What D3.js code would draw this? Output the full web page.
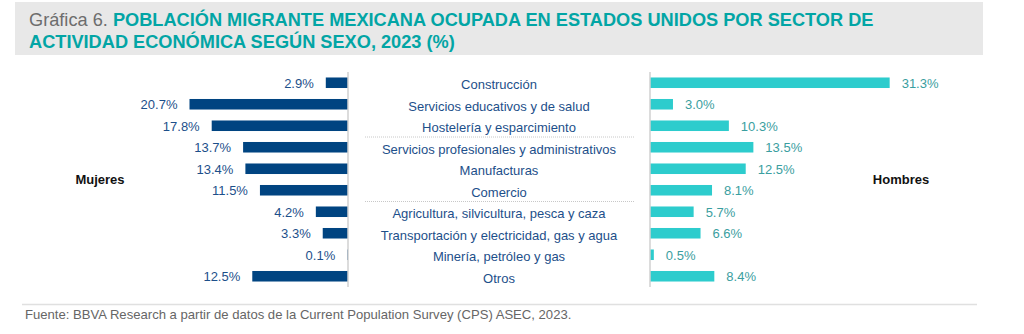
<!DOCTYPE html>
<html>
<head>
<meta charset="utf-8">
<script src="https://cdn.jsdelivr.net/npm/d3@7"></script>
<style>
	body { margin: 0; background: #fff; }
	svg { display: block; font-family: "Liberation Sans", Arial, sans-serif; }
</style>
</head>
<body>
<script>
var sectores = [
	"Construcción",
	"Servicios educativos y de salud",
	"Hostelería y esparcimiento",
	"Servicios profesionales y administrativos",
	"Manufacturas",
	"Comercio",
	"Agricultura, silvicultura, pesca y caza",
	"Transportación y electricidad, gas y agua",
	"Minería, petróleo y gas",
	"Otros"
];
var mujeres = [2.9, 20.7, 17.8, 13.7, 13.4, 11.5, 4.2, 3.3, 0.1, 12.5];
var hombres = [31.3, 3.0, 10.3, 13.5, 12.5, 8.1, 5.7, 6.6, 0.5, 8.4];
// separators drawn after these categories
var cortes = ["Hostelería y esparcimiento", "Comercio"];

var width = 1024, height = 334;
var leftAxis = 348, rightAxis = 650, midX = 499;
var navy = "#004481", aqua = "#2dcccd";

var canvas = d3.select("body").append("svg")
	.attr("width", width)
	.attr("height", height);

/*
Title band
*/
canvas.append("rect")
	.attr("x", 15).attr("y", 2)
	.attr("width", 968).attr("height", 53)
	.style("fill", "#e8e8e8");

var t1 = canvas.append("text")
	.attr("x", 29).attr("y", 26)
	.attr("font-size", "18.2px");
t1.append("tspan").text("Gráfica 6. ").style("fill", "#6d6d6d");
t1.append("tspan").text("POBLACIÓN MIGRANTE MEXICANA OCUPADA EN ESTADOS UNIDOS POR SECTOR DE")
	.style("fill", "#02a5a5").style("font-weight", "bold");
canvas.append("text")
	.attr("x", 29).attr("y", 48)
	.attr("font-size", "18.2px")
	.style("fill", "#02a5a5").style("font-weight", "bold")
	.text("ACTIVIDAD ECONÓMICA SEGÚN SEXO, 2023 (%)");

/*
Scales
*/
var y = d3.scaleBand()
	.domain(sectores)
	.range([72, 287])
	.paddingInner(0.51)
	.paddingOuter(0.255);

var x = d3.scaleLinear()
	.domain([0, 35])
	.range([0, 268]);

var rows = sectores.map(function(s, i){ return {sector: s, m: mujeres[i], h: hombres[i]}; });

/*
Middle category labels and dotted separators
*/
canvas.selectAll("catLabels")
	.data(rows)
	.enter()
	.append("text")
	.attr("x", midX)
	.attr("y", function(d){ return y(d.sector) + y.bandwidth() / 2 + 2; })
	.attr("dy", "0.35em")
	.attr("text-anchor", "middle")
	.attr("font-size", "13px")
	.style("fill", "#1d4f8a")
	.text(function(d){ return d.sector; });

canvas.selectAll("cortes")
	.data(cortes)
	.enter()
	.append("line")
	.attr("x1", 365).attr("x2", 635)
	.attr("y1", function(d){ return y(d) + y.bandwidth() + (y.step() - y.bandwidth()) / 2 + 0.5; })
	.attr("y2", function(d){ return y(d) + y.bandwidth() + (y.step() - y.bandwidth()) / 2 + 0.5; })
	.style("stroke", "#c8c8c8")
	.style("stroke-width", 1)
	.style("stroke-dasharray", "1,1");

/*
Mujeres bars (left, growing leftwards)
*/
canvas.selectAll("barM")
	.data(rows)
	.enter()
	.append("rect")
	.attr("x", function(d){ return leftAxis - x(d.m); })
	.attr("y", function(d){ return y(d.sector); })
	.attr("width", function(d){ return x(d.m); })
	.attr("height", y.bandwidth())
	.style("fill", navy);

canvas.selectAll("labM")
	.data(rows)
	.enter()
	.append("text")
	.attr("x", function(d){ return leftAxis - x(d.m) - 12; })
	.attr("y", function(d){ return y(d.sector) + y.bandwidth() / 2 + 0.5; })
	.attr("dy", "0.35em")
	.attr("text-anchor", "end")
	.attr("font-size", "13px")
	.style("fill", "#1d4f8a")
	.text(function(d){ return d.m.toFixed(1) + "%"; });

/*
Hombres bars (right)
*/
canvas.selectAll("barH")
	.data(rows)
	.enter()
	.append("rect")
	.attr("x", rightAxis)
	.attr("y", function(d){ return y(d.sector); })
	.attr("width", function(d){ return x(d.h); })
	.attr("height", y.bandwidth())
	.style("fill", aqua);

canvas.selectAll("labH")
	.data(rows)
	.enter()
	.append("text")
	.attr("x", function(d){ return rightAxis + x(d.h) + 12; })
	.attr("y", function(d){ return y(d.sector) + y.bandwidth() / 2 + 0.5; })
	.attr("dy", "0.35em")
	.attr("font-size", "13px")
	.style("fill", "#3a9ea0")
	.text(function(d){ return d.h.toFixed(1) + "%"; });

/*
Vertical axis lines
*/
[leftAxis, rightAxis].forEach(function(ax){
	canvas.append("line")
		.attr("x1", ax).attr("x2", ax)
		.attr("y1", 72).attr("y2", 287)
		.style("stroke", "#d0d0d0")
		.style("stroke-width", 1.5);
});

/*
Series names
*/
canvas.append("text")
	.attr("x", 100).attr("y", 184)
	.attr("text-anchor", "middle")
	.attr("font-size", "13px")
	.style("font-weight", "bold")
	.style("fill", "#111")
	.text("Mujeres");
canvas.append("text")
	.attr("x", 901).attr("y", 184)
	.attr("text-anchor", "middle")
	.attr("font-size", "13px")
	.style("font-weight", "bold")
	.style("fill", "#111")
	.text("Hombres");

/*
Source
*/
canvas.append("line")
	.attr("x1", 22).attr("x2", 977)
	.attr("y1", 304.5).attr("y2", 304.5)
	.style("stroke", "#e0e0e0")
	.style("stroke-width", 1.5);
canvas.append("text")
	.attr("x", 25).attr("y", 319)
	.attr("font-size", "13.1px")
	.style("fill", "#666")
	.text("Fuente: BBVA Research a partir de datos de la Current Population Survey (CPS) ASEC, 2023.");
</script>
</body>
</html>
